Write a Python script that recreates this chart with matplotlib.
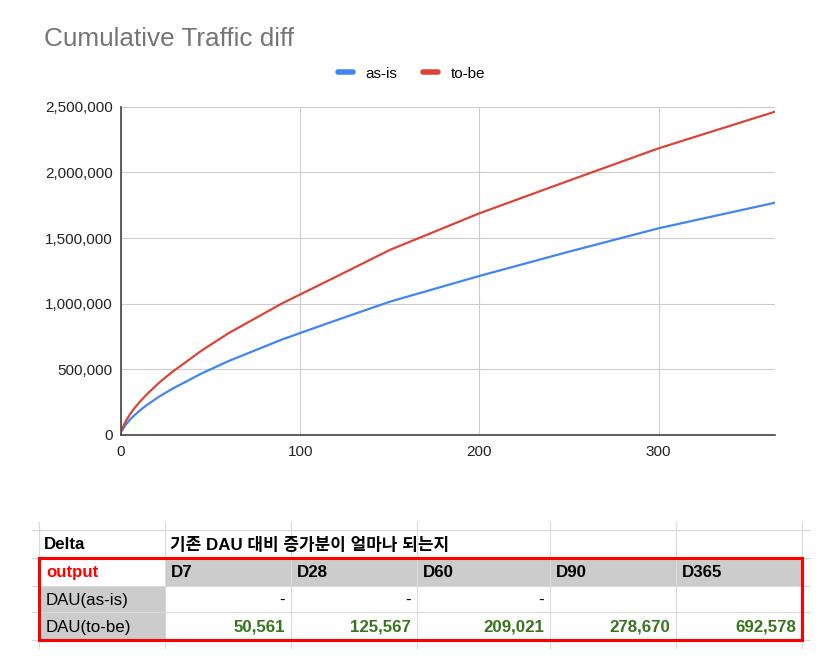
import matplotlib.pyplot as plt
from matplotlib.patches import Rectangle
from matplotlib.ticker import FuncFormatter

plt.rcParams['font.family'] = ['Liberation Sans', 'Noto Sans CJK KR', 'DejaVu Sans']

# chart data (days since launch, cumulative traffic)
days = [0, 1, 2, 3, 5, 7, 10, 14, 21, 28, 45, 60, 90, 120, 150, 200, 250, 300, 365]
as_is = [25000, 42000, 65000, 84000, 117000, 144000, 181000, 224000, 290000, 347000,
         469000, 563000, 728000, 873000, 1015000, 1211000, 1396000, 1574000, 1769000]
to_be = [30000, 56000, 87000, 113000, 157000, 195000, 245000, 304000, 395000, 474000,
         643000, 775000, 1003000, 1205000, 1409000, 1688000, 1937000, 2183000, 2462000]

# table data
table_title = '기존 DAU 대비 증가분이 얼마나 되는지'
col_labels = ['D7', 'D28', 'D60', 'D90', 'D365']
as_is_row = ['-', '-', '-', '', '']
to_be_row = [50561, 125567, 209021, 278670, 692578]

BLUE = '#4285F4'
RED = '#DB4437'
W, H = 828, 663

fig = plt.figure(figsize=(W / 100, H / 100), dpi=100)

# ---- line chart ----
ax = fig.add_axes([121 / W, (H - 435) / H, (775 - 121) / W, (435 - 106.7) / H])
ax.plot(days, as_is, color=BLUE, lw=1.6, label='as-is', solid_capstyle='round')
ax.plot(days, to_be, color=RED, lw=1.6, label='to-be', solid_capstyle='round')
ax.set_xlim(0, 365)
ax.set_ylim(0, 2500000)
ax.set_xticks([0, 100, 200, 300])
ax.set_yticks(range(0, 2500001, 500000))
ax.yaxis.set_major_formatter(FuncFormatter(lambda v, p: f'{int(v):,}'))
ax.grid(True, color='#cccccc', lw=0.8)
ax.set_axisbelow(True)
for s in ['top', 'right']:
    ax.spines[s].set_visible(False)
for s in ['left', 'bottom']:
    ax.spines[s].set_color('#444444')
    ax.spines[s].set_linewidth(1.2)
ax.tick_params(axis='both', length=0, labelsize=11, colors='#222222')
ax.tick_params(axis='x', pad=7)
ax.tick_params(axis='y', pad=6)

fig.text(44 / W, 1 - 45.7 / H, 'Cumulative Traffic diff', fontsize=18.8,
         color='#757575', va='baseline', ha='left')
fig.legend(loc='center', bbox_to_anchor=(0.497, 1 - 73.5 / H), ncol=2,
           frameon=False, fontsize=11, handlelength=1.0, handletextpad=0.8,
           columnspacing=1.7)
for h in fig.legends[0].legend_handles:
    h.set_linewidth(4)

# ---- spreadsheet table ----
tb = fig.add_axes([0, 0, 1, 1], zorder=-1)
tb.set_xlim(0, W)
tb.set_ylim(H, 0)
tb.axis('off')

xs = [39, 165, 291, 417, 550, 676, 802]
ys = [530, 557.7, 585.7, 612.3, 640]
gray = '#cccccc'
fs = 12.2

# gray fills
for i in range(5):
    tb.add_patch(Rectangle((xs[i + 1], ys[1]), xs[i + 2] - xs[i + 1], ys[2] - ys[1],
                           color=gray, lw=0, zorder=1))
tb.add_patch(Rectangle((xs[0], ys[2]), xs[1] - xs[0], ys[4] - ys[2], color=gray,
                       lw=0, zorder=1))

# grid lines
for x in xs:
    tb.plot([x, x], [521.7, 648], color='#dadada', lw=0.8, zorder=2)
for y in ys:
    tb.plot([31.7, 810], [y, y], color='#dadada', lw=0.8, zorder=2)

# red outline
tb.add_patch(Rectangle((xs[0], ys[1]), xs[-1] - xs[0], ys[4] - ys[1],
                       fill=False, ec='#ff0000', lw=2.2, zorder=5))

def mid(r):
    return (ys[r] + ys[r + 1]) / 2 + 1

tb.text(xs[0] + 5, mid(0), 'Delta', fontsize=fs, weight='bold', va='center')
tb.text(xs[1] + 5, mid(0), table_title, fontsize=fs, weight='bold', va='center')
tb.text(xs[0] + 7, mid(1), 'output', fontsize=fs, weight='bold', color='#ff0000',
        va='center')
tb.text(xs[0] + 7, mid(2), 'DAU(as-is)', fontsize=fs, va='center')
tb.text(xs[0] + 7, mid(3), 'DAU(to-be)', fontsize=fs, va='center')
for i, lab in enumerate(col_labels):
    tb.text(xs[i + 1] + 5.5, mid(1), lab, fontsize=fs, weight='bold', va='center')
    tb.text(xs[i + 2] - 6, mid(2), as_is_row[i], fontsize=fs, va='center', ha='right')
    tb.text(xs[i + 2] - 6, mid(3), f'{to_be_row[i]:,}', fontsize=fs, weight='bold',
            color='#38761d', va='center', ha='right')

fig.savefig('out.png', dpi=100)
